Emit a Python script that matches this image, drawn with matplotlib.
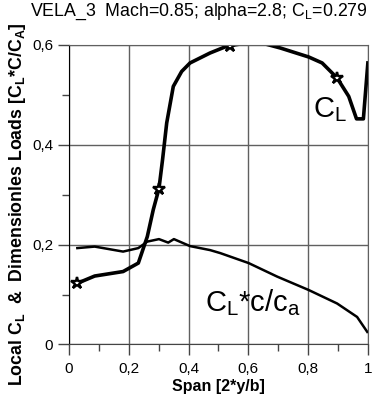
import matplotlib
matplotlib.use("Agg")
import matplotlib.pyplot as plt
from matplotlib.ticker import MultipleLocator, FuncFormatter

plt.rcParams['font.family'] = ['Liberation Sans', 'DejaVu Sans']

# local CL along the span
span_cl = [0.028, 0.086, 0.181, 0.232, 0.262, 0.282, 0.301, 0.313, 0.327, 0.349,
           0.377, 0.405, 0.472, 0.530, 0.595, 0.651, 0.707, 0.802, 0.847, 0.897,
           0.936, 0.962, 0.985, 1.0]
cl = [0.1225, 0.137, 0.146, 0.163, 0.216, 0.27, 0.312, 0.37, 0.444, 0.517,
      0.547, 0.564, 0.584, 0.598, 0.604, 0.603, 0.594, 0.576, 0.564, 0.534,
      0.497, 0.452, 0.452, 0.564]

# CL*c/ca along the span
span_load = [0.028, 0.086, 0.181, 0.232, 0.262, 0.301, 0.332, 0.351, 0.405, 0.472,
             0.506, 0.601, 0.696, 0.802, 0.897, 0.964, 0.998]
load = [0.193, 0.196, 0.186, 0.193, 0.206, 0.211, 0.204, 0.211, 0.197, 0.189,
        0.183, 0.163, 0.136, 0.109, 0.082, 0.055, 0.025]

# stations marked with stars
star_x = [0.028, 0.301, 0.539, 0.897]
star_y = [0.1225, 0.312, 0.597, 0.534]

x_ticks = [0, 0.2, 0.4, 0.6, 0.8, 1.0]
y_ticks = [0, 0.2, 0.4, 0.6]

fig = plt.figure(figsize=(3.82, 4.0), dpi=100)
ax = fig.add_axes([0.1806, 0.139, 0.7824, 0.7485])

ax.plot(span_cl, cl, color='black', lw=2.6, solid_joinstyle='round')
ax.plot(span_load, load, color='black', lw=1.8)
ax.plot(star_x, star_y, ls='none', marker='*', ms=9, mfc='white',
        mec='black', mew=1.7)

ax.set_xlim(0, 1)
ax.set_ylim(0, 0.6)
ax.set_xticks(x_ticks)
ax.set_yticks(y_ticks)
ax.xaxis.set_minor_locator(MultipleLocator(0.1))
ax.yaxis.set_minor_locator(MultipleLocator(0.1))


def comma(v, pos):
    s = f"{v:.1f}".replace('.', ',')
    if s.endswith(',0'):
        s = s[:-2]
    return s


ax.xaxis.set_major_formatter(FuncFormatter(comma))
ax.yaxis.set_major_formatter(FuncFormatter(comma))
ax.tick_params(which='major', direction='out', length=8, width=1,
               labelsize=11, color='#444444')
ax.tick_params(which='minor', direction='out', length=5, width=1,
               color='#444444')
ax.tick_params(axis='x', pad=5)

ax.grid(True, which='major', color='#606060', lw=1)
ax.spines['top'].set_color('#606060')
ax.spines['right'].set_color('#606060')
ax.spines['left'].set_color('black')
ax.spines['bottom'].set_color('#444444')

ax.text(0.818, 0.47, r'C$_\mathregular{L}$', fontsize=21, va='center')
ax.text(0.455, 0.083, r'C$_\mathregular{L}$*c/c$_\mathregular{a}$',
        fontsize=21, va='center')

ax.set_xlabel('Span [2*y/b]', fontsize=11.5, fontweight='bold', labelpad=2)
fig.text(0.045, 0.49, r'Local C$_\mathregular{L}$  &  Dimensionles Loads '
         r'[C$_\mathregular{L}$*C/C$_\mathregular{A}$]',
         rotation=90, fontsize=12.8, fontweight='bold', va='center', ha='center')
fig.text(0.52, 0.97, r'VELA_3  Mach=0.85; alpha=2.8; C$_\mathregular{L}$=0.279',
         fontsize=12.8, ha='center', va='center')

fig.savefig('out.png', dpi=100)
